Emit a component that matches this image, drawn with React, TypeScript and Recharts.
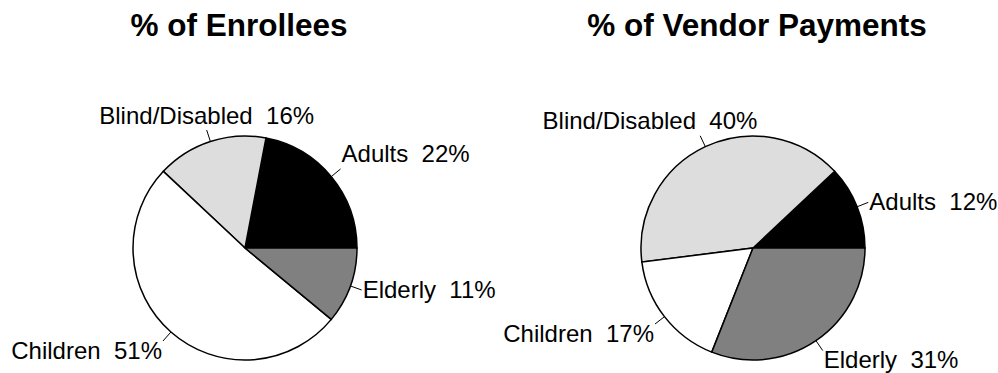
import { Cell, Pie, PieChart } from "recharts";

const categories = ["Adults", "Blind/Disabled", "Children", "Elderly"];
const enrollees = [22, 16, 51, 11];
const vendorPayments = [12, 40, 17, 31];
const titles = ["% of Enrollees", "% of Vendor Payments"];

const sliceColors = ["#000000", "#dddddd", "#ffffff", "#808080"];
const FONT = "'Liberation Sans', Arial, sans-serif";
const RAD = Math.PI / 180;

const enrolleeData = categories.map((name, i) => ({ name, value: enrollees[i] }));
const paymentData = categories.map((name, i) => ({ name, value: vendorPayments[i] }));

let ctx: CanvasRenderingContext2D | null = null;
function textWidth(text: string) {
  if (!ctx) ctx = document.createElement("canvas").getContext("2d");
  if (!ctx) return text.length * 12;
  ctx.font = `24px ${FONT}`;
  return ctx.measureText(text).width;
}

const clamp = (v: number) => Math.max(0, Math.min(1, v));

function renderLabel(props: any) {
  const { cx, cy, midAngle, outerRadius, name, value } = props;
  const c = Math.cos(-midAngle * RAD);
  const s = Math.sin(-midAngle * RAD);
  const x1 = cx + outerRadius * c;
  const y1 = cy + outerRadius * s;
  const x2 = cx + (outerRadius + 12) * c;
  const y2 = cy + (outerRadius + 12) * s;
  const text = `${name}  ${value}%`;
  const w = textWidth(text);
  // slide the label box off the tick end depending on where the slice points
  const kx = Math.sign(c) * clamp((Math.abs(c) - 0.31) / 0.25);
  const ky = Math.sign(s) * clamp((Math.abs(s) - 0.4) / 0.2);
  const tx = x2 + kx * (w / 2 + 1);
  const ty = y2 + ky * (ky < 0 ? 14 : 10) - 1;
  return (
    <g>
      <line x1={x1} y1={y1} x2={x2} y2={y2} stroke="#000" strokeWidth={1} />
      <text
        x={tx}
        y={ty}
        textAnchor="middle"
        dominantBaseline="central"
        fontFamily={FONT}
        fontSize={24}
        fill="#000"
        style={{ whiteSpace: "pre" }}
      >
        {text}
      </text>
    </g>
  );
}

const titleStyle = (center: number): React.CSSProperties => ({
  position: "absolute",
  top: 6.5,
  left: center - 250,
  width: 500,
  textAlign: "center",
  fontFamily: FONT,
  fontWeight: "bold",
  fontSize: 31.5,
  color: "#000",
  whiteSpace: "nowrap",
});

export default function App() {
  return (
    <div style={{ position: "absolute", left: 0, top: 0, width: 998, height: 373, background: "#fff" }}>
      <div style={titleStyle(239)}>{titles[0]}</div>
      <div style={titleStyle(757)}>{titles[1]}</div>
      <PieChart
        width={998}
        height={373}
        margin={{ top: 0, right: 0, bottom: 0, left: 0 }}
        style={{ position: "absolute", left: 0, top: 0 }}
      >
        <Pie
          data={enrolleeData}
          dataKey="value"
          nameKey="name"
          cx={245}
          cy={248}
          outerRadius={112}
          startAngle={0}
          endAngle={360}
          stroke="#000"
          strokeWidth={1.5}
          label={renderLabel}
          labelLine={false}
          isAnimationActive={false}
        >
          {enrolleeData.map((d, i) => (
            <Cell key={d.name} fill={sliceColors[i]} />
          ))}
        </Pie>
        <Pie
          data={paymentData}
          dataKey="value"
          nameKey="name"
          cx={753}
          cy={248}
          outerRadius={112}
          startAngle={0}
          endAngle={360}
          stroke="#000"
          strokeWidth={1.5}
          label={renderLabel}
          labelLine={false}
          isAnimationActive={false}
        >
          {paymentData.map((d, i) => (
            <Cell key={d.name} fill={sliceColors[i]} />
          ))}
        </Pie>
      </PieChart>
    </div>
  );
}
